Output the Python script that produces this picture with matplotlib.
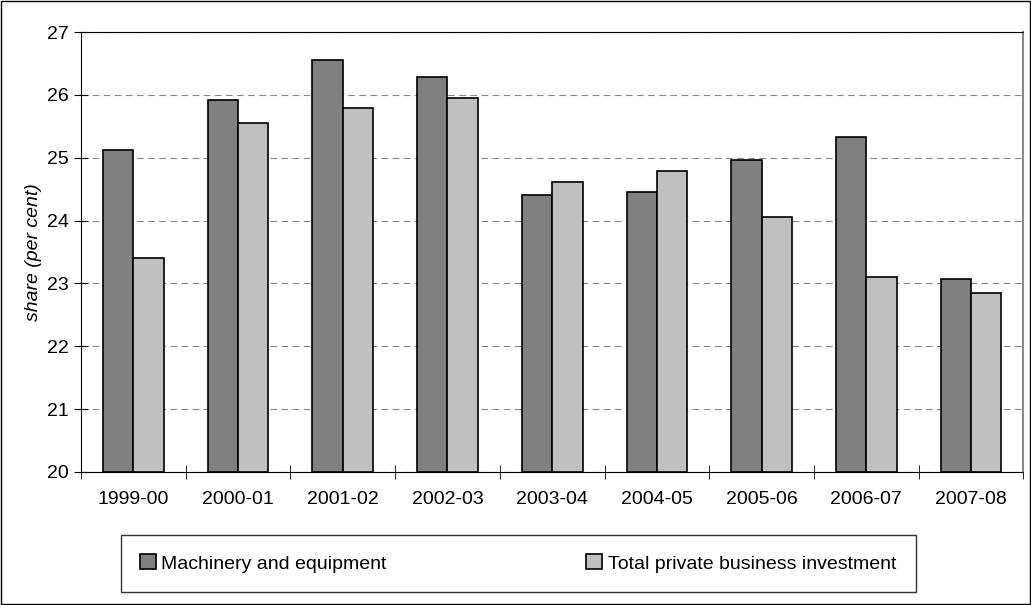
import matplotlib.pyplot as plt
import numpy as np

years = ["1999-00", "2000-01", "2001-02", "2002-03", "2003-04",
         "2004-05", "2005-06", "2006-07", "2007-08"]
machinery = [25.12, 25.92, 26.56, 26.28, 24.41, 24.46, 24.97, 25.33, 23.07]
total_private = [23.40, 25.56, 25.79, 25.95, 24.61, 24.79, 24.05, 23.10, 22.84]

plt.rcParams['font.family'] = ['Liberation Sans', 'DejaVu Sans']

fig = plt.figure(figsize=(10.31, 6.05), dpi=100)
ax = fig.add_axes([0.0786, 0.220, 0.914, 0.727])

x = np.arange(len(years))
w = 0.29
ax.bar(x - w / 2, [v - 20 for v in machinery], w, bottom=20, color='#808080',
       edgecolor='black', linewidth=1.2, label='Machinery and equipment', zorder=3)
ax.bar(x + w / 2, [v - 20 for v in total_private], w, bottom=20, color='#c0c0c0',
       edgecolor='black', linewidth=1.2, label='Total private business investment', zorder=3)

ax.set_ylim(20, 27)
ax.set_xlim(-0.5, len(years) - 0.5)
ax.set_yticks(range(20, 28))
ax.set_xticks(x)
ax.set_xticklabels(years)
ax.set_xticks(np.arange(-0.5, len(years)), minor=True)
ax.tick_params(axis='x', which='major', length=0, pad=14)
ax.tick_params(axis='x', which='minor', length=10, direction='inout')
ax.tick_params(axis='y', length=10, direction='inout')
ax.tick_params(labelsize=14)
ax.yaxis.grid(True, linestyle=(0, (6, 4)), color='#888888', linewidth=0.8, zorder=0)
ax.spines['right'].set_color('#888888')
ax.spines['right'].set_linewidth(1.5)
ax.set_ylabel('share (per cent)', fontstyle='italic', fontsize=14)

leg = fig.legend(loc='lower left', bbox_to_anchor=(0.117, 0.0215, 0.771, 0.096),
                 mode='expand', ncol=2, frameon=True,
                 fancybox=False, edgecolor='black', fontsize=14,
                 handlelength=0.8, handleheight=0.8, handletextpad=0.3,
                 borderpad=1.0, borderaxespad=0)
leg.get_frame().set_linewidth(1.0)

fig.patches.append(plt.Rectangle((0.001, 0.001), 0.998, 0.998, transform=fig.transFigure,
                                 fill=False, edgecolor='black', linewidth=1))
fig.savefig('out.png', dpi=100)
